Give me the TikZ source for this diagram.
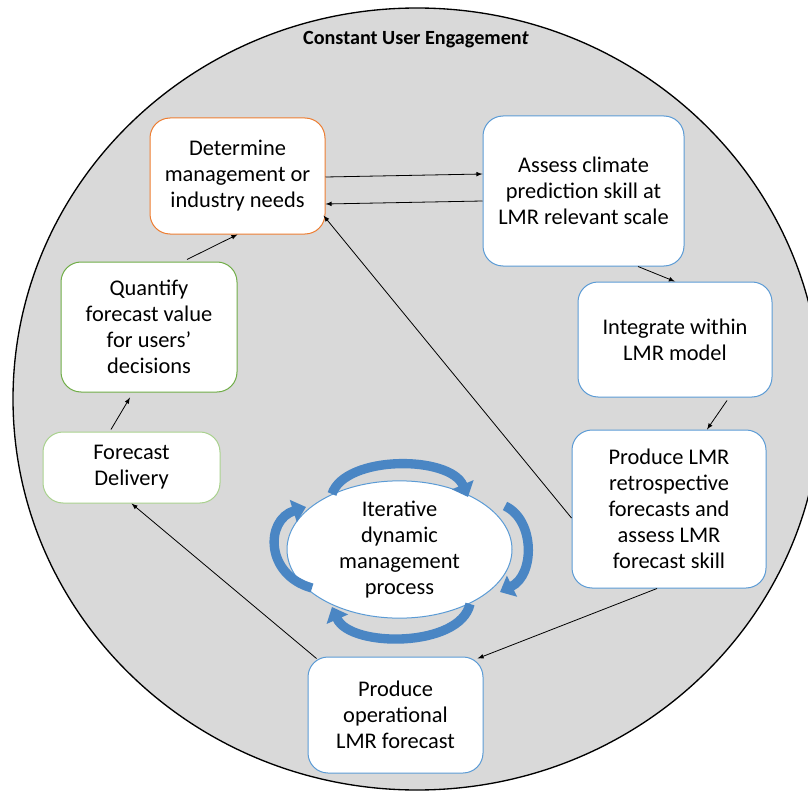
\documentclass[tikz,border=0pt]{standalone}
\usepackage{fontspec}
\setmainfont{Carlito}
\usetikzlibrary{shapes,arrows,arrows.meta,positioning}

\definecolor{boxorange}{HTML}{ED7D31}
\definecolor{boxblue}{HTML}{5B9BD5}
\definecolor{boxgreen}{HTML}{70AD47}
\definecolor{lightgreen}{HTML}{A9D18E}
\definecolor{cyclblue}{HTML}{4A86C4}
\definecolor{ringgray}{HTML}{D9D9D9}

\begin{document}
\begin{tikzpicture}[x=0.75pt,y=-0.75pt,
	stage/.style={rectangle,rounded corners=15pt,draw=boxblue,fill=white,line width=0.75pt,align=center,inner sep=2pt,font=\fontsize{16.8}{19.5}\selectfont},
	link/.style={-latex,line width=0.6pt},
	cyc/.style={line width=7pt,draw=cyclblue,-{Triangle[width=17pt,length=10pt]}}]
	\useasboundingbox (0,0) rectangle (808,792);

	% engagement ring
	\begin{scope}
		\clip (0,0) rectangle (808,792);
		\draw[fill=ringgray,line width=1pt] (417,399) ellipse [x radius=404,y radius=391];
	\end{scope}
	\node[font=\bfseries\fontsize{15.1}{18}\selectfont] (title) at (416,40) {Constant User Engagemen\textit{t}};

	% stages
	\node[stage,draw=boxorange,minimum width=131.25pt,minimum height=87pt] (needs) at (237.5,176) {Determine\\management or\\industry needs};
	\node[stage,minimum width=150.75pt,minimum height=112.5pt] (skill) at (583.5,191) {Assess climate\\prediction skill at\\LMR relevant scale};
	\node[stage,minimum width=145.5pt,minimum height=86.25pt] (model) at (675,339.5) {Integrate within\\LMR model};
	\node[stage,minimum width=145.5pt,minimum height=118.5pt] (retro) at (669,509) {Produce LMR\\retrospective\\forecasts and\\assess LMR\\forecast skill};
	\node[stage,minimum width=131.25pt,minimum height=87pt] (oper) at (395.5,715) {Produce\\operational\\LMR forecast};
	\node[stage,draw=lightgreen,minimum width=132.75pt,minimum height=53.25pt] (deliv) at (131.5,467.5) {Forecast\\Delivery};
	\node[stage,draw=boxgreen,minimum width=132pt,minimum height=97.5pt] (value) at (149,327) {Quantify\\forecast value\\for users'\\decisions};

	% iterative process
	\node[ellipse,draw=boxblue,fill=white,line width=0.75pt,inner sep=0pt,minimum width=168.75pt,minimum height=101.25pt,align=center,font=\fontsize{16.8}{19.5}\selectfont] (iter) at (399.5,549.5) {Iterative\\dynamic\\management\\process};
	\draw[cyc] (332,494) .. controls (345,455) and (450,455) .. (468,497);
	\draw[cyc] (505,506) .. controls (535,520) and (535,575) .. (500,592);
	\draw[cyc] (470,604) .. controls (460,648) and (350,648) .. (332,607);
	\draw[cyc] (312,588) .. controls (265,575) and (265,520) .. (306,507);

	% connectors
	\draw[link] ([yshift=-0.75pt]needs.east) -- ([yshift=12.75pt]skill.west);
	\draw[link] ([yshift=-7.5pt]skill.west) -- ([yshift=-21pt]needs.east);
	\draw[link] ([xshift=40.9pt]skill.south) -- (model.north);
	\draw[link] ([xshift=39pt,yshift=-2.25pt]model.south) -- ([xshift=28.5pt]retro.north);
	\draw[link] ([yshift=-6.75pt]retro.west) -- ([xshift=-1.5pt,yshift=14.25pt]needs.south east);
	\draw[link] ([xshift=-9pt]retro.south) -- ([xshift=-4.5pt,yshift=-1.5pt]oper.north east);
	\draw[link] ([xshift=6.75pt,yshift=-1.5pt]oper.north west) -- (deliv.south);
	\draw[link] ([xshift=-15.4pt,yshift=1.5pt]deliv.north) -- ([xshift=-14.25pt,yshift=-3.75pt]value.south);
	\draw[link] ([xshift=28.5pt,yshift=1.5pt]value.north) -- (needs.south);
\end{tikzpicture}
\end{document}
